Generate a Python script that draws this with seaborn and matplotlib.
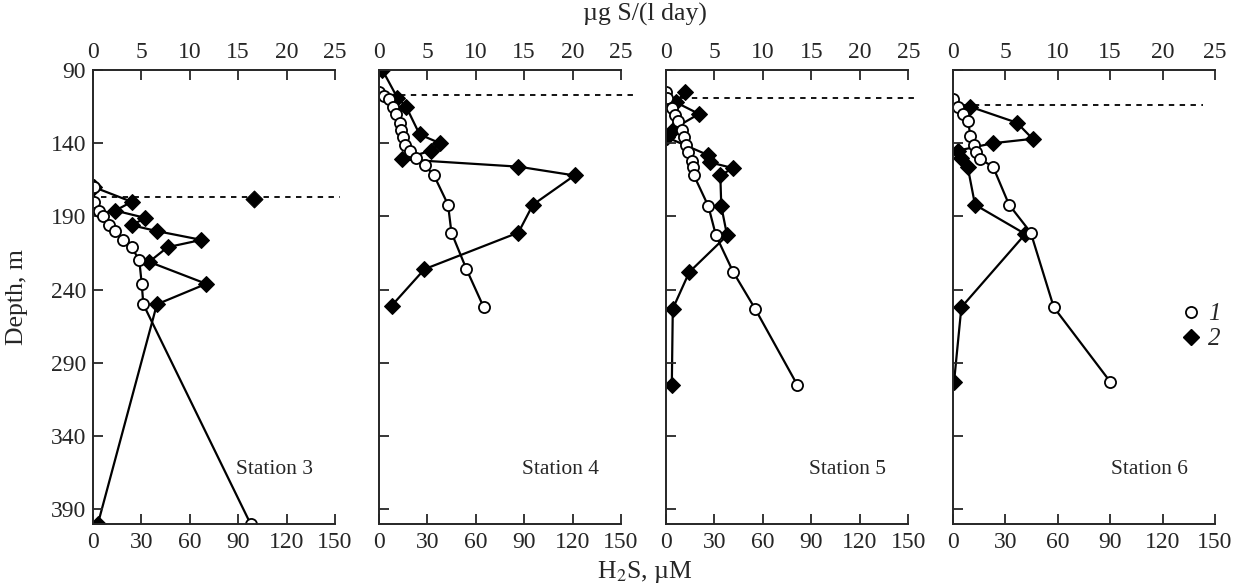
import numpy as np
import pandas as pd
import seaborn as sns
import matplotlib.pyplot as plt
from matplotlib.lines import Line2D

# depth profiles
# series 1: H2S, uM (bottom axis); series 2: ug S/(l day) (top axis)
st3_h2s_depth = [170, 180, 186, 190, 196, 200, 206, 211, 220, 236, 250, 400]
st3_h2s = [0.6, 0.6, 3.9, 6.0, 10.1, 13.6, 18.8, 24.0, 28.7, 30.2, 31.2, 97.7]
st3_s_depth = [170, 180, 186, 191, 196, 200, 206, 211, 221, 236, 250, 400]
st3_s = [0.1, 4.0, 2.3, 5.4, 4.0, 6.6, 11.2, 7.7, 5.8, 11.7, 6.6, 0.5]

st4_h2s_depth = [105, 108, 110, 115, 120, 126, 131, 136, 141, 145, 150, 155, 162, 182, 201, 226, 252]
st4_h2s = [0, 2.9, 6.2, 8.7, 10.8, 12.8, 13.9, 14.9, 15.9, 19.0, 23.2, 28.3, 34.1, 42.8, 44.9, 54.2, 64.9]
st4_s_depth = [90, 109, 115, 134, 140, 145, 151, 156, 162, 182, 201, 226, 251]
st4_s = [0.35, 1.9, 2.8, 4.2, 6.3, 5.4, 2.4, 14.4, 20.2, 15.9, 14.4, 4.7, 1.3]

st5_h2s_depth = [105, 109, 116, 121, 125, 131, 136, 141, 146, 152, 156, 162, 183, 203, 228, 253, 305]
st5_h2s = [0, 0.8, 3.5, 5.6, 7.6, 9.7, 11.1, 12.4, 13.8, 15.9, 16.5, 17.3, 26.2, 30.9, 41.6, 55.1, 81.2]
st5_s_depth = [105, 112, 120, 130, 136, 148, 153, 157, 162, 183, 203, 228, 253, 305]
st5_s = [2.0, 1.0, 3.4, 0.8, 0.1, 4.3, 4.5, 6.9, 5.6, 5.7, 6.3, 2.4, 0.7, 0.6]

st6_h2s_depth = [110, 115, 120, 125, 135, 141, 146, 151, 156, 182, 201, 252, 303]
st6_h2s = [0, 2.9, 5.7, 8.6, 10.0, 11.9, 13.4, 15.7, 22.9, 32.1, 44.5, 57.7, 90.1]
st6_s_depth = [115, 126, 137, 140, 145, 150, 156, 182, 202, 252, 303]
st6_s = [1.6, 6.1, 7.6, 3.8, 0.5, 0.8, 1.4, 2.1, 6.9, 0.8, 0.1]

# lone point of station 3 sitting on the dashed line
st3_lone_s = [16.6]
st3_lone_depth = [178]

stations = ["Station 3", "Station 4", "Station 5", "Station 6"]
h2s_depths = [st3_h2s_depth, st4_h2s_depth, st5_h2s_depth, st6_h2s_depth]
h2s_vals = [st3_h2s, st4_h2s, st5_h2s, st6_h2s]
s_depths = [st3_s_depth, st4_s_depth, st5_s_depth, st6_s_depth]
s_vals = [st3_s, st4_s, st5_s, st6_s]

# dashed horizontal line (upper H2S boundary) per station, in H2S units
dash_depth = [177, 107, 109, 114]
dash_from = [5, 13, 9, 5.5]
dash_to = [153, 158, 156, 143]

h2s_ticks = [0, 30, 60, 90, 120, 150]
s_ticks = [0, 5, 10, 15, 20, 25]
depth_ticks = [90, 140, 190, 240, 290, 340, 390]

sns.set_style("ticks")
plt.rcParams['font.family'] = ['Liberation Serif', 'DejaVu Serif']
plt.rcParams['mathtext.fontset'] = 'stix'

W, H = 1243, 586
fig = plt.figure(figsize=(W / 100, H / 100), dpi=100)

# panel boxes in pixels (left, width) - scanned panels are not quite equal
boxes = [(93, 242), (379, 242), (666, 242.5), (953, 262)]
top_px, bot_px = 70, 524

for i, (left, width) in enumerate(boxes):
    ax = fig.add_axes([left / W, 1 - bot_px / H, width / W, (bot_px - top_px) / H])
    ax_top = ax.twiny()
    ax.set_zorder(ax_top.get_zorder() + 1)
    ax.patch.set_visible(False)

    sns.lineplot(x=s_vals[i], y=s_depths[i], ax=ax_top, sort=False, estimator=None,
                 color='black', lw=1.6, marker='D', markersize=8.5,
                 markerfacecolor='black', markeredgecolor='black')
    if i == 0:
        sns.scatterplot(x=st3_lone_s, y=st3_lone_depth, ax=ax_top, marker='D',
                        s=75, color='black', edgecolor='black', zorder=5)

    sns.lineplot(x=h2s_vals[i], y=h2s_depths[i], ax=ax, sort=False, estimator=None,
                 color='black', lw=1.6, marker='o', markersize=8,
                 markerfacecolor='white', markeredgecolor='black', markeredgewidth=1.3)

    ax.plot([dash_from[i], dash_to[i]], [dash_depth[i]] * 2, color='black', lw=1.3,
            ls=(0, (3, 3)), clip_on=False)

    ax.set_xlim(0, 150)
    ax_top.set_xlim(0, 25)
    ax.set_ylim(400, 90)
    ax_top.set_ylim(400, 90)
    ax.set_xticks(h2s_ticks)
    ax_top.set_xticks(s_ticks)
    ax.set_yticks(depth_ticks)
    ax.set_xlabel("")
    ax.set_ylabel("")
    ax_top.set_xlabel("")

    for sp in ['right', 'top']:
        ax.spines[sp].set_visible(False)
    for sp in ['left', 'right', 'bottom']:
        ax_top.spines[sp].set_visible(False)
    for a in (ax, ax_top):
        for sp in a.spines.values():
            sp.set_linewidth(1.4)

    ax.tick_params(axis='x', direction='in', length=7, width=1.3, labelsize=17, pad=6)
    ax.tick_params(axis='y', direction='in', length=7, width=1.3, labelsize=17, pad=5)
    ax_top.tick_params(axis='x', direction='in', length=7, width=1.3, labelsize=17, pad=5,
                       top=True, bottom=False, labeltop=True, labelbottom=False)
    ax_top.tick_params(axis='y', left=False, right=False, labelleft=False, labelright=False)
    if i > 0:
        ax.set_yticklabels([])

    ax.text(0.75, 0.12, stations[i], transform=ax.transAxes, ha='center', va='center',
            fontsize=15.5)

    if i == 3:
        handles = [Line2D([], [], ls='none', marker='o', markersize=8, markerfacecolor='white',
                          markeredgecolor='black', markeredgewidth=1.3),
                   Line2D([], [], ls='none', marker='D', markersize=8.5, color='black')]
        ax.legend(handles, ['1', '2'], loc='center left', bbox_to_anchor=(0.84, 0.435),
                  frameon=False, handlelength=0.6, handletextpad=0.4, labelspacing=0.1,
                  borderaxespad=0, prop={'family': 'Liberation Serif', 'style': 'italic',
                                         'size': 18})

fig.text(645 / W, 1 - 14 / H, "µg S/(l day)", ha='center', va='center', fontsize=18.5)
fig.text(645 / W, 1 - 572 / H, "H$_2$S, µM", ha='center', va='center', fontsize=18.5)
fig.text(17 / W, 1 - 297 / H, "Depth, m", ha='center', va='center', rotation=90, fontsize=18.5)

fig.savefig("out.png", dpi=100)
